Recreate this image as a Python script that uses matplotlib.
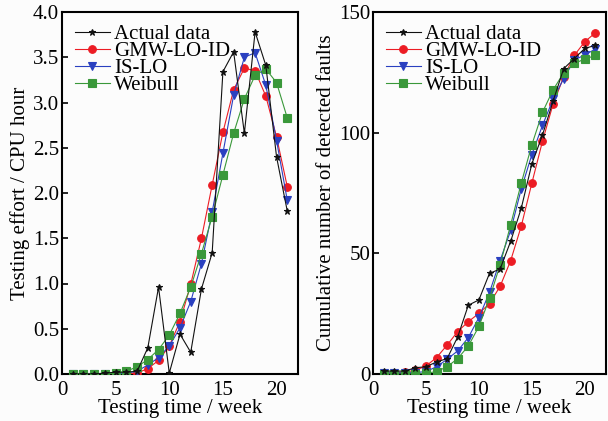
import matplotlib
matplotlib.use("Agg")
import matplotlib.pyplot as plt

plt.rcParams['font.family'] = ['Liberation Serif', 'DejaVu Serif']
plt.rcParams['mathtext.fontset'] = 'stix'

weeks = list(range(1, 22))

# Left panel: testing effort (CPU hour)
effort_actual = [0.00, 0.00, 0.00, 0.01, 0.02, 0.02, 0.03, 0.29, 0.96, 0.01, 0.44,
                 0.24, 0.94, 1.34, 3.34, 3.56, 2.66, 3.78, 3.41, 2.40, 1.80]
effort_gmw = [0.00, 0.00, 0.00, 0.00, 0.00, 0.00, 0.01, 0.06, 0.15, 0.31, 0.58,
              0.99, 1.50, 2.09, 2.67, 3.14, 3.38, 3.35, 3.07, 2.62, 2.07]
effort_islo = [0.00, 0.00, 0.00, 0.00, 0.00, 0.01, 0.03, 0.10, 0.18, 0.31, 0.51,
               0.80, 1.22, 1.79, 2.44, 3.08, 3.50, 3.55, 3.19, 2.58, 1.92]
effort_weibull = [0.00, 0.00, 0.00, 0.00, 0.01, 0.03, 0.08, 0.16, 0.27, 0.43, 0.67,
                  0.96, 1.33, 1.74, 2.20, 2.66, 3.04, 3.30, 3.37, 3.22, 2.83]

# Right panel: cumulative number of detected faults
faults_actual = [1.2, 1.2, 1.2, 2.6, 3.0, 5.0, 6.4, 15.4, 28.5, 30.7, 41.7,
                 43.5, 55.0, 68.7, 87.1, 99.0, 113.0, 126.5, 130.7, 134.9, 136.2]
faults_gmw = [0.3, 0.5, 0.8, 1.5, 3.3, 6.8, 12.0, 17.6, 21.7, 25.1, 29.2,
              36.3, 47.0, 61.3, 79.1, 96.4, 111.8, 123.0, 132.0, 137.7, 141.4]
faults_islo = [0.5, 0.5, 0.5, 0.6, 1.0, 3.0, 6.1, 9.6, 15.1, 23.4, 33.8,
               47.0, 59.5, 76.7, 90.9, 103.0, 113.8, 122.4, 130.0, 132.3, 134.6]
faults_weibull = [0.0, 0.0, 0.0, 0.0, 0.3, 1.0, 3.0, 6.4, 11.6, 19.7, 31.3,
                  45.2, 61.9, 79.1, 95.0, 108.4, 117.7, 124.8, 128.7, 130.5, 132.0]

labels = ['Actual data', 'GMW-LO-ID', 'IS-LO', 'Weibull']
colors = ['#111111', '#ec1c24', '#2a40c0', '#3a983a']
markers = ['*', 'o', 'v', 's']
msizes = [5, 5.5, 5.5, 5.5]
zorders = [6, 3, 4, 5]

fig = plt.figure(figsize=(6.08, 4.21), dpi=100)
fig.patch.set_facecolor('#fcfcfc')

ax1 = fig.add_axes([62/608, 47/421, 236/608, 362/421])
ax2 = fig.add_axes([373/608, 47/421, 233/608, 362/421])

def draw(ax, series):
    for s, lab, c, m, ms, z in zip(series, labels, colors, markers, msizes, zorders):
        ax.plot(weeks, s, color=c, marker=m, markersize=ms, linewidth=0.8,
                label=lab, zorder=z, markeredgewidth=0.8)
    ax.set_xlim(0, 22)
    ax.set_xticks([0, 5, 10, 15, 20])
    ax.set_facecolor('#fcfcfc')
    for sp in ax.spines.values():
        sp.set_linewidth(1.5)
    ax.tick_params(axis='y', direction='in', length=4, width=1.2, labelsize=15, pad=2)
    ax.tick_params(axis='x', direction='in', length=0, labelsize=15, pad=5)
    ax.set_xlabel('Testing time / week', fontsize=15, labelpad=-1)
    leg = ax.legend(loc='upper left', frameon=False, fontsize=15, labelspacing=-0.12,
                    handlelength=1.7, handletextpad=0.2, borderaxespad=0.35,
                    borderpad=0.25)
    return leg

draw(ax1, [effort_actual, effort_gmw, effort_islo, effort_weibull])
ax1.set_ylim(0, 4.0)
ax1.set_yticks([0.0, 0.5, 1.0, 1.5, 2.0, 2.5, 3.0, 3.5, 4.0])
ax1.set_yticklabels(['0.0', '0.5', '1.0', '1.5', '2.0', '2.5', '3.0', '3.5', '4.0'])
ax1.set_ylabel('Testing effort / CPU hour', fontsize=15, labelpad=2)

draw(ax2, [faults_actual, faults_gmw, faults_islo, faults_weibull])
ax2.set_ylim(0, 150)
ax2.set_yticks([0, 50, 100, 150])
ax2.set_ylabel('Cumulative number of detected faults', fontsize=15, labelpad=2)

fig.savefig('out.png', dpi=100, facecolor=fig.get_facecolor())
